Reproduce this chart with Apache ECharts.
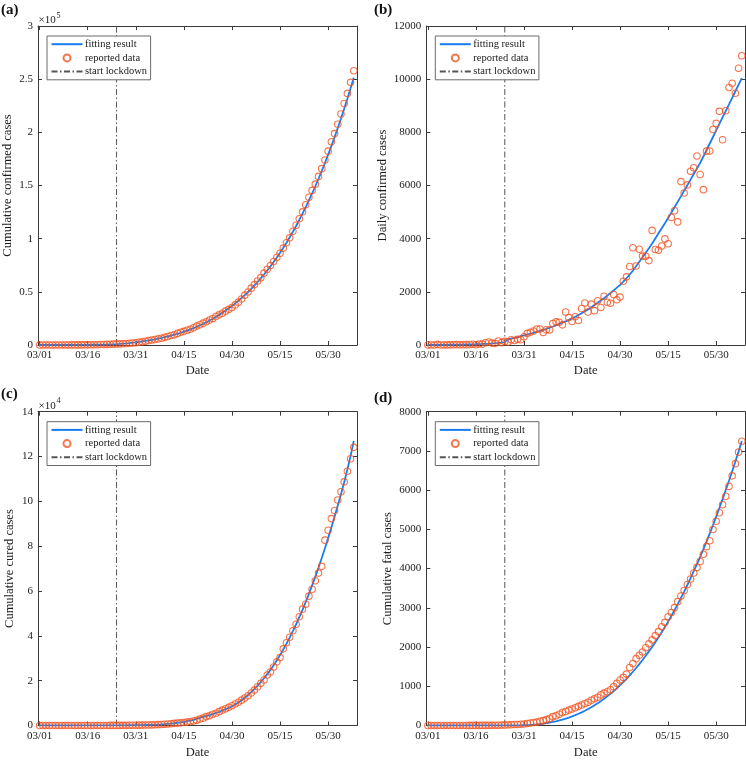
<!DOCTYPE html>
<html><head><meta charset="utf-8">
<script src="https://cdn.jsdelivr.net/npm/echarts@6/dist/echarts.min.js"></script>
<style>html,body{margin:0;padding:0;background:#fff}#c{width:746px;height:760px}</style>
</head><body><div id="c"></div>
<script>
// x axis: day index from 03/01 (0) to 06/07 (98)
const xTickValues = [0, 15, 30, 45, 60, 75, 90];
const xTickLabels = ['03/01', '03/16', '03/31', '04/15', '04/30', '05/15', '05/30'];
const lockdownDay = 24;

// (a) cumulative confirmed
const cumConfirmed = [
  3,5,6,28,30,31,34,39,48,63,
  71,81,95,114,140,151,188,222,305,416,
  487,550,699,790,925,1040,1236,1407,1619,1816,
  2126,2563,3041,3568,4169,4770,5242,5815,6380,7189,
  8060,8914,9672,10915,11946,12832,13893,14815,16186,17766,
  19005,20542,21834,23501,24909,26744,28351,29919,31821,33526,
  35327,37723,40287,43239,46895,49866,53468,56812,60151,63326,
  67637,71229,74791,78517,82508,86316,91110,96160,100790,106937,
  112657,118680,125216,131883,138994,145408,151251,158544,165844,173949,
  182285,191074,198797,207609,217298,227145,236617,247025,257907];
const fitCumConfirmed = [
  3,6,10,15,21,28,36,46,57,70,
  85,102,122,145,171,201,236,276,322,375,
  436,506,586,678,783,998,1241,1512,1812,2142,
  2502,2894,3319,3778,4272,4802,5372,5982,6634,7329,
  8069,8858,9697,10588,11533,12533,13597,14727,15924,17191,
  18531,19951,21453,23039,24711,26471,28327,30281,32335,34491,
  36751,39127,41621,44235,46971,49831,52831,55973,59259,62691,
  66271,70021,73943,78039,82311,86761,91401,96236,101268,106498,
  111938,117598,123480,129586,135918,142478,149284,156338,163640,171190,
  178990,187068,195425,204061,212977,222177,231657,241417,251457];

// (b) daily confirmed
const dailyConfirmed = [
  0,2,1,22,2,1,3,5,9,15,
  8,10,14,19,26,11,37,34,83,111,
  71,63,149,91,135,115,196,171,212,197,
  310,437,478,527,601,601,472,573,565,809,
  871,854,758,1243,1031,886,1061,922,1371,1580,
  1239,1537,1292,1667,1408,1835,1607,1568,1902,1705,
  1801,2396,2564,2952,3656,2971,3602,3344,3339,3175,
  4311,3592,3562,3726,3991,3808,4794,5050,4630,6147,
  5720,6023,6536,6667,7111,6414,5843,7293,7300,8105,
  8336,8789,7723,8812,9689,9847,9472,10408,10882];
const fitDailyConfirmed = [
  3,3,4,5,6,7,8,10,11,13,
  15,17,20,23,26,30,35,40,46,53,
  61,70,80,92,105,215,243,271,300,330,
  360,392,425,459,494,530,570,610,652,695,
  740,789,839,891,945,1000,1064,1130,1197,1267,
  1340,1420,1502,1586,1672,1760,1856,1954,2054,2156,
  2260,2380,2510,2650,2800,2960,3130,3300,3470,3640,
  3820,4010,4200,4390,4580,4780,4980,5180,5385,5590,
  5800,6010,6220,6430,6640,6850,7090,7335,7580,7825,
  8070,8315,8560,8805,9050,9300,9545,9795,10040];

// (c) cumulative cured
const cumCured = [
  3,3,3,3,3,3,3,3,3,4,
  4,4,4,10,10,13,14,14,20,23,
  23,27,34,40,43,45,67,75,86,96,
  124,151,169,191,229,267,328,402,473,565,
  655,781,969,1080,1181,1359,1514,1767,2016,2302,
  2854,3273,3975,4370,5012,5498,6185,6869,7500,8100,
  8800,9600,10400,11300,12300,13300,14500,15800,17300,18800,
  20300,22500,23900,26100,28400,30300,34200,36900,39400,42300,
  45200,48500,51900,54100,57700,60800,64600,68000,71000,82700,
  87100,92300,95900,100600,104300,108700,113400,119000,124100];
const fitCumCured = [
  5,5,6,6,7,7,8,9,10,11,
  12,13,15,17,19,21,24,27,31,35,
  40,45,51,58,66,75,84,93,102,111,
  120,150,180,220,260,310,370,430,510,600,
  700,850,1000,1200,1400,1650,1900,2200,2500,2900,
  3400,3800,4200,4600,5100,5600,6100,6700,7300,7900,
  8600,9400,10300,11300,12400,13600,14900,16300,17800,19400,
  21100,22900,24800,26900,29100,31400,33900,36500,39200,42100,
  45100,48300,51600,55100,58700,62500,66400,70500,74700,79100,
  83600,88300,93100,98100,103200,108500,114200,120300,127000];

// (d) cumulative fatal
const cumFatal = [
  0,0,0,0,0,0,0,0,0,0,
  0,1,1,2,2,2,2,3,3,4,
  4,7,7,10,10,16,19,24,27,32,
  38,50,62,75,86,109,124,149,178,226,
  249,288,331,358,393,420,452,488,521,559,
  592,645,681,721,780,825,860,910,991,1075,
  1159,1226,1310,1478,1579,1704,1788,1872,1982,2082,
  2183,2292,2393,2519,2628,2771,2880,3006,3157,3300,
  3442,3594,3736,3888,4030,4181,4366,4559,4710,4996,
  5206,5424,5626,5844,6096,6364,6675,6969,7246];
const fitCumFatal = [
  0,0,0,0,0,0,0,0,0,0,
  0,0,0,0,0,0,0,0,0,0,
  0,0,0,0,0,0,0,1,2,3,
  6,9,14,20,28,37,47,60,74,90,
  108,128,150,175,202,232,264,299,336,376,
  419,465,514,566,621,681,742,807,876,948,
  1027,1107,1191,1279,1371,1466,1566,1670,1778,1890,
  2003,2124,2249,2379,2513,2649,2792,2940,3093,3251,
  3414,3582,3755,3933,4116,4300,4493,4692,4896,5106,
  5324,5545,5771,6003,6241,6483,6732,6987,7250];

const legendNames = ['fitting result', 'reported data', 'start lockdown'];

const FONT = '"Liberation Serif","Times New Roman",serif';
const BLUE = '#1a7cf0';
const ORANGE = '#f4511e';
const GRAY = '#555555';
const AX = '#3a3a3a';
const TXT = '#1a1a1a';

const panels = [
  {label:'(a)', lx:1, ly:3, left:38, top:26, width:319, height:319, fit:fitCumConfirmed, data:cumConfirmed,
   yMax:300000, yInt:50000, scale:1e5, exp:'5', yName:'Cumulative confirmed cases', yGap:24, xGap:19.5},
  {label:'(b)', lx:374, ly:3, left:426.3, top:26, width:318.7, height:319, fit:fitDailyConfirmed, data:dailyConfirmed,
   yMax:12000, yInt:2000, scale:1, exp:null, yName:'Daily confirmed cases', yGap:37.5, xGap:19.5},
  {label:'(c)', lx:1, ly:387, left:38, top:411.7, width:319, height:317.6, fit:fitCumCured, data:cumCured,
   yMax:140000, yInt:20000, scale:1e4, exp:'4', yName:'Cumulative cured cases', yGap:21.5, xGap:20.5},
  {label:'(d)', lx:374, ly:391, left:426.3, top:411.7, width:318.7, height:317.6, fit:fitCumFatal, data:cumFatal,
   yMax:8000, yInt:1000, scale:1, exp:null, yName:'Cumulative fatal cases', yGap:32, xGap:20.5}
];

const grid = [], xAxis = [], yAxis = [], series = [], legend = [], graphic = [];
const tickBase = {show:true, inside:true, length:4, lineStyle:{color:AX, width:1}};
const lineBase = {show:true, onZero:false, lineStyle:{color:AX, width:1}};
const hiddenMarker = {color:'rgba(0,0,0,0)', borderWidth:0, opacity:0};

panels.forEach((p, i) => {
  grid.push({left:p.left, top:p.top, width:p.width, height:p.height, containLabel:false});
  const xCommon = {type:'value', gridIndex:i, min:-0.5, max:99, splitLine:{show:false},
    axisLine:lineBase, axisTick:Object.assign({}, tickBase, {customValues:xTickValues})};
  xAxis.push(Object.assign({}, xCommon, {position:'bottom',
    axisLabel:{customValues:xTickValues, formatter:v => xTickLabels[xTickValues.indexOf(v)],
      fontFamily:FONT, fontSize:11, color:TXT, margin:5},
    name:'Date', nameLocation:'middle', nameGap:p.xGap,
    nameTextStyle:{fontFamily:FONT, fontSize:12.5, color:TXT}}));
  xAxis.push(Object.assign({}, xCommon, {position:'top', axisLabel:{show:false}}));
  const yCommon = {type:'value', gridIndex:i, min:0, max:p.yMax, interval:p.yInt, splitLine:{show:false},
    axisLine:lineBase, axisTick:tickBase};
  yAxis.push(Object.assign({}, yCommon, {position:'left',
    axisLabel:{formatter:v => String(+(v / p.scale).toFixed(2)), fontFamily:FONT, fontSize:11, color:TXT, margin:5,
      showMinLabel:true, showMaxLabel:true},
    name:p.yName, nameLocation:'middle', nameGap:p.yGap, nameRotate:90,
    nameTextStyle:{fontFamily:FONT, fontSize:12.5, color:TXT}}));
  yAxis.push(Object.assign({}, yCommon, {position:'right', axisLabel:{show:false}}));

  const xi = 2 * i, yi = 2 * i;
  series.push({type:'line', name:legendNames[0], xAxisIndex:xi, yAxisIndex:yi,
    data:p.fit.map((v, d) => [d, v]), symbol:'none', showSymbol:false, smooth:false,
    lineStyle:{color:BLUE, width:1.8}, itemStyle:{color:BLUE}, z:3, silent:true});
  series.push({type:'scatter', name:legendNames[1], xAxisIndex:xi, yAxisIndex:yi,
    data:p.data.map((v, d) => [d, v]), symbol:'circle', symbolSize:6.5,
    itemStyle:{color:'rgba(255,255,255,0)', borderColor:ORANGE, borderWidth:1.1}, z:4, silent:true});
  series.push({type:'line', name:legendNames[2], xAxisIndex:xi, yAxisIndex:yi,
    data:[[lockdownDay, 0], [lockdownDay, p.yMax]], symbol:'none', showSymbol:false,
    lineStyle:{color:GRAY, width:1, type:[6, 2.5, 1.5, 2.5]}, itemStyle:{color:GRAY}, z:2, silent:true});

  legend.push({orient:'vertical', left:p.left + 9, top:p.top + 10,
    data:[{name:legendNames[0], itemStyle:hiddenMarker}, legendNames[1], {name:legendNames[2], itemStyle:hiddenMarker}],
    itemWidth:31, itemHeight:7, itemGap:2.7, padding:[2.7, 3.5, 2.7, 3.5],
    borderColor:'#6a6a6a', borderWidth:1, backgroundColor:'#ffffff', selectedMode:false,
    textStyle:{fontFamily:FONT, fontSize:10.5, color:TXT, padding:[0, 0, 0, -2.5]}});

  graphic.push({type:'text', left:p.lx, top:p.ly,
    style:{text:p.label, font:'bold 15px ' + FONT, fill:'#111'}});
  if (p.exp) {
    graphic.push({type:'text', left:p.left + 0.5, top:p.top - 11.5,
      style:{text:'×10', font:'11px ' + FONT, fill:TXT}});
    graphic.push({type:'text', left:p.left + 18.5, top:p.top - 14.5,
      style:{text:p.exp, font:'8px ' + FONT, fill:TXT}});
  }
});

const chart = echarts.init(document.getElementById('c'), null, {renderer:'canvas'});
chart.setOption({animation:false, backgroundColor:'#ffffff', grid, xAxis, yAxis, series, legend, graphic});
</script></body></html>
